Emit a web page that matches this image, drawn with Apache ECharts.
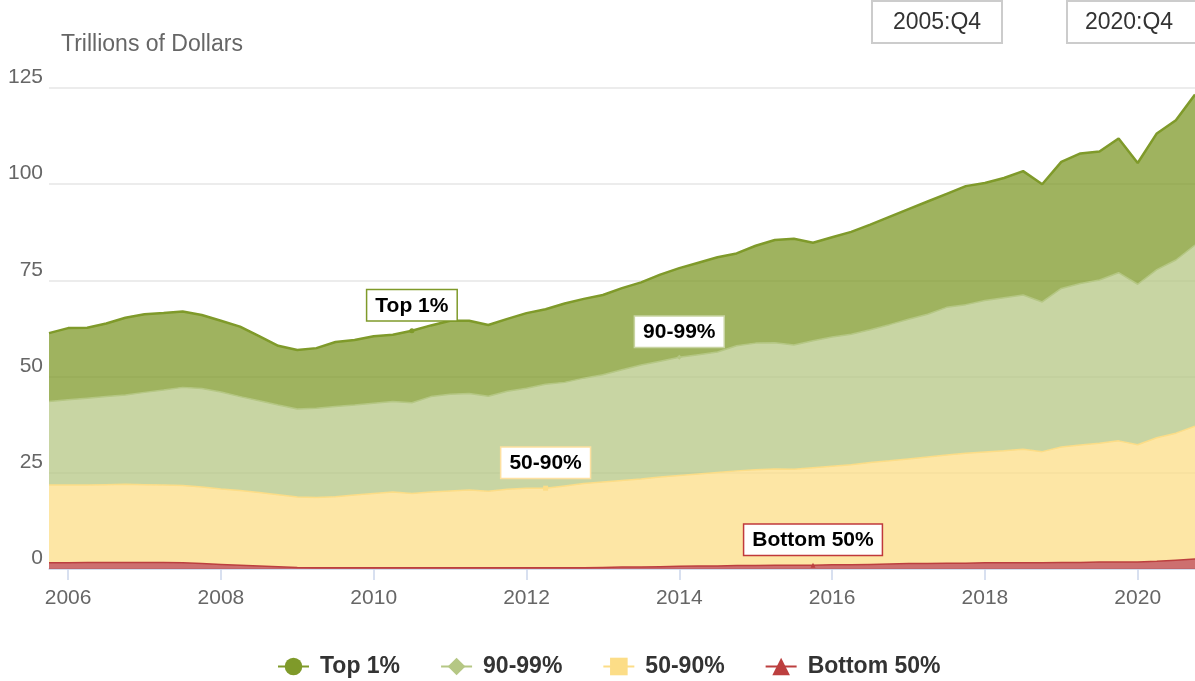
<!DOCTYPE html>
<html>
<head>
<meta charset="utf-8">
<script src="https://cdn.jsdelivr.net/npm/echarts@6/dist/echarts.min.js"></script>
<style>
  html, body { margin: 0; padding: 0; background: #fff; }
  #chart { width: 1195px; height: 681px; }
</style>
</head>
<body>
<div id="chart"></div>
<script>
// quarters 2005:Q4 .. 2020:Q4
var categories = [];
for (var i = 0; i < 61; i++) {
    categories.push((2005 + Math.floor((i + 3) / 4)) + ':Q' + ((i + 3) % 4 + 1));
}

// trillions of dollars
var top1 = [17.8, 18.6, 18.3, 19.0, 20.1, 20.3, 20.0, 19.7, 19.1, 18.5,
    18.2, 16.8, 15.4, 15.3, 15.6, 16.8, 16.9, 17.4, 17.4, 18.7,
    18.5, 19.1, 18.9, 18.5, 18.8, 19.5, 19.5, 20.5, 20.6, 20.7,
    21.2, 21.5, 22.5, 23.2, 23.9, 24.6, 24.0, 25.3, 26.7, 27.6,
    25.5, 25.9, 26.6, 27.3, 28.0, 28.6, 29.3, 29.5, 30.8, 30.5,
    31.1, 32.2, 30.6, 32.9, 33.8, 33.4, 34.9, 31.5, 35.4, 36.3, 39.1];
var p90_99 = [21.7, 22.2, 22.6, 22.9, 23.2, 24.0, 24.7, 25.5, 25.6, 25.2,
    24.4, 23.8, 23.3, 22.9, 23.2, 23.4, 23.4, 23.5, 23.5, 23.6,
    24.8, 25.1, 25.1, 24.7, 25.5, 26.0, 27.0, 26.9, 27.4, 27.9,
    28.8, 29.6, 30.1, 30.7, 31.0, 31.3, 32.5, 32.9, 32.8, 32.3,
    33.0, 33.6, 33.9, 34.5, 35.4, 36.3, 37.1, 38.4, 38.6, 39.4,
    39.8, 40.1, 38.9, 41.2, 42.0, 42.4, 43.7, 41.7, 43.7, 45.0, 47.1];
var p50_90 = [20.2, 20.2, 20.1, 20.2, 20.3, 20.2, 20.1, 20.1, 19.9, 19.6,
    19.4, 19.1, 18.7, 18.3, 18.3, 18.5, 18.9, 19.3, 19.7, 19.3,
    19.7, 20.0, 20.2, 19.9, 20.4, 20.7, 20.7, 21.3, 21.9, 22.2,
    22.5, 22.9, 23.3, 23.6, 23.9, 24.3, 24.6, 24.9, 25.0, 24.9,
    25.3, 25.6, 26.0, 26.5, 26.8, 27.2, 27.7, 28.1, 28.6, 28.8,
    29.1, 29.5, 28.9, 30.0, 30.5, 30.9, 31.5, 30.5, 32.1, 33.0, 34.5];
var bottom50 = [1.6, 1.6, 1.7, 1.7, 1.7, 1.7, 1.7, 1.6, 1.4, 1.2,
    1.0, 0.8, 0.6, 0.4, 0.3, 0.3, 0.3, 0.3, 0.3, 0.3,
    0.3, 0.3, 0.3, 0.3, 0.3, 0.3, 0.3, 0.3, 0.3, 0.4,
    0.5, 0.5, 0.6, 0.7, 0.8, 0.8, 0.9, 0.9, 1.0, 1.0,
    1.0, 1.1, 1.1, 1.2, 1.3, 1.4, 1.4, 1.5, 1.5, 1.6,
    1.6, 1.6, 1.6, 1.7, 1.7, 1.8, 1.8, 1.8, 2.0, 2.3, 2.6];

var seriesNames = ['Bottom 50%', '50-90%', '90-99%', 'Top 1%'];
var legendOrder = ['Top 1%', '90-99%', '50-90%', 'Bottom 50%'];

var myChart = echarts.init(document.getElementById('chart'));

// one callout label per series
function withLabel(values, idx, border) {
    return values.map(function (v, i) {
        if (i !== idx) return v;
        return {
            value: v,
            symbolSize: 5,
            label: {
                show: true,
                position: 'top',
                distance: 8,
                formatter: '{a}',
                color: '#000',
                fontSize: 21,
                fontWeight: 'bold',
                fontFamily: 'Liberation Sans, Arial, sans-serif',
                backgroundColor: '#fff',
                borderColor: border,
                borderWidth: 1.5,
                padding: [5, 8, 4, 8]
            }
        };
    });
}

function areaSeries(name, data, color, symbol, lineWidth, labelIdx, labelBorder) {
    return {
        name: name,
        type: 'line',
        stack: 'wealth',
        data: withLabel(data, labelIdx, labelBorder),
        symbol: symbol,
        symbolSize: 0,
        showSymbol: true,
        showAllSymbol: true,
        color: color,
        itemStyle: { color: color },
        lineStyle: { color: color, width: lineWidth },
        areaStyle: { color: color, opacity: 0.75 },
        emphasis: { disabled: true }
    };
}

var option = {
    animation: false,
    textStyle: { fontFamily: 'Liberation Sans, Arial, sans-serif' },
    title: {
        text: 'Trillions of Dollars',
        left: 56,
        top: 28,
        textStyle: { color: '#666', fontSize: 23, fontWeight: 'normal' }
    },
    grid: { left: 49, right: 0, top: 88, bottom: 112 },
    legend: {
        data: legendOrder,
        left: 272,
        top: 650,
        itemWidth: 31,
        itemHeight: 22,
        itemGap: 40,
        selectedMode: false,
        textStyle: { color: '#333', fontSize: 23, fontWeight: 'bold', padding: [0, 0, 0, 6] }
    },
    xAxis: {
        type: 'category',
        data: categories,
        boundaryGap: false,
        axisLine: { lineStyle: { color: '#ccd6eb', width: 1.5 } },
        axisTick: {
            length: 11,
            lineStyle: { color: '#ccd6eb', width: 1.5 },
            interval: function (idx, val) {
                return /:Q1$/.test(val) && parseInt(val, 10) % 2 === 0;
            }
        },
        axisLabel: {
            color: '#666',
            fontSize: 21,
            margin: 19,
            interval: function (idx, val) {
                return /:Q1$/.test(val) && parseInt(val, 10) % 2 === 0;
            },
            formatter: function (val) { return val.slice(0, 4); }
        },
        splitLine: { show: false }
    },
    yAxis: {
        type: 'value',
        min: 0,
        max: 125,
        interval: 25,
        axisLine: { show: false },
        axisTick: { show: false },
        axisLabel: {
            color: '#666',
            fontSize: 21,
            margin: 6,
            verticalAlign: 'bottom'
        },
        splitLine: { lineStyle: { color: '#e6e6e6', width: 1.5 } }
    },
    graphic: [
        { type: 'rect', shape: { x: 872, y: 1, width: 130, height: 42 },
          style: { fill: '#fff', stroke: '#cccccc', lineWidth: 2 } },
        { type: 'text', x: 937, y: 23,
          style: { text: '2005:Q4', fill: '#333', fontSize: 23, align: 'center', verticalAlign: 'middle',
                   fontFamily: 'Liberation Sans, Arial, sans-serif' } },
        { type: 'rect', shape: { x: 1067, y: 1, width: 140, height: 42 },
          style: { fill: '#fff', stroke: '#cccccc', lineWidth: 2 } },
        { type: 'text', x: 1129, y: 23,
          style: { text: '2020:Q4', fill: '#333', fontSize: 23, align: 'center', verticalAlign: 'middle',
                   fontFamily: 'Liberation Sans, Arial, sans-serif' } }
    ],
    series: [
        areaSeries(seriesNames[0], bottom50, '#bc3f3f', 'triangle', 1.5, 40, '#c0393b'),
        areaSeries(seriesNames[1], p50_90, '#fcdd87', 'rect', 1.5, 26, '#fde0a0'),
        areaSeries(seriesNames[2], p90_99, '#b5c784', 'diamond', 1.5, 33, '#c8d4a2'),
        areaSeries(seriesNames[3], top1, '#7f9a2a', 'circle', 2.5, 19, '#7f9a2a')
    ]
};

myChart.setOption(option);
</script>
</body>
</html>
